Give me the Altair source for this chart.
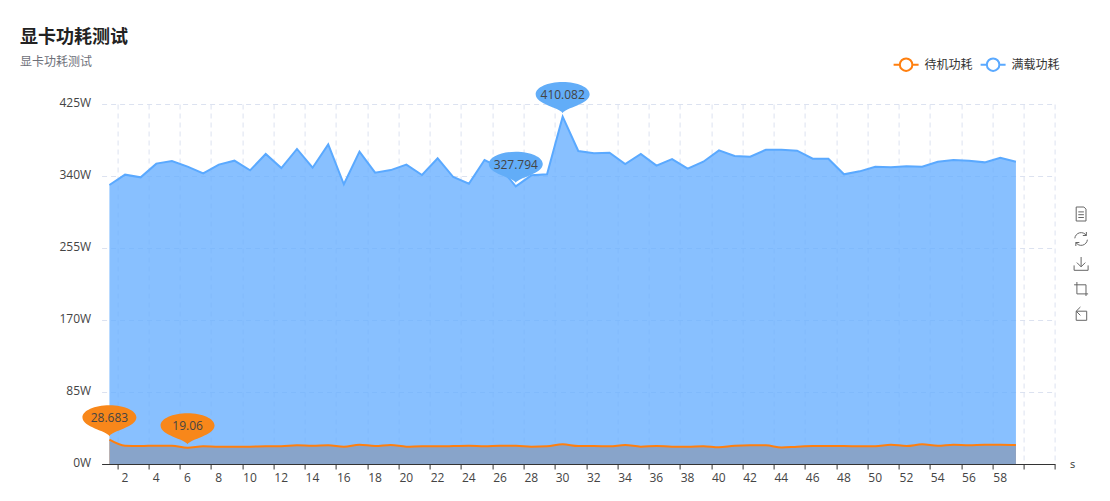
import pandas as pd
import altair as alt

seconds = list(range(1, 60))

# 待机功耗
idle = [28.683, 21.6, 21.2, 21.6, 21.6, 19.06, 20.9, 20.5, 20.5, 20.5,
        20.9, 20.9, 22.0, 21.6, 22.0, 20.5, 22.8, 21.2, 22.4, 20.5,
        20.9, 20.9, 21.2, 21.6, 20.9, 21.6, 21.6, 20.5, 20.9, 23.2,
        21.2, 21.2, 20.9, 22.4, 20.5, 21.2, 20.5, 20.5, 20.9, 19.7,
        21.6, 22.0, 22.0, 19.5, 20.5, 21.2, 21.2, 21.2, 20.9, 20.9,
        22.8, 21.2, 23.2, 21.6, 22.8, 22.0, 22.8, 22.8, 22.4]

# 满载功耗
full = [329.4, 341.6, 338.4, 354.6, 357.7, 351.0, 343.0, 353.4, 358.1, 346.7,
        366.0, 349.4, 371.9, 349.8, 377.4, 330.2, 368.7, 343.9, 347.0, 353.4,
        341.2, 360.9, 338.8, 330.9, 358.9, 350.0, 327.794, 340.8, 342.0, 410.082,
        369.5, 366.8, 367.5, 354.2, 366.0, 352.2, 360.0, 348.6, 356.9, 370.3,
        363.6, 362.8, 371.0, 371.0, 369.9, 360.4, 360.4, 342.0, 345.5, 351.0,
        350.2, 351.4, 351.0, 356.9, 358.9, 358.1, 356.1, 361.6, 356.9]

idle_marks = [(1, 28.683), (6, 19.06)]
full_marks = [(27, 327.794), (30, 410.082)]

y_ticks = [0, 85, 170, 255, 340, 425]
# the axis has 61 bands, ticks sit on the band edges
x_ticks = [k + 0.5 for k in range(1, 62, 2)]

ORANGE = '#FF7F0E'
BLUE = '#5AA9FF'
FONT = 'Open Sans, Noto Sans CJK SC'
CJK = 'Noto Sans CJK SC'

PIN = ('M0 -0.13 C-0.1 -0.34 -1 -0.45 -1 -0.83 C-1 -1.08 -0.55 -1.28 0 -1.28 '
       'C0.55 -1.28 1 -1.08 1 -0.83 C1 -0.45 0.1 -0.34 0 -0.13 Z')
LEGEND_SYMBOL = ('M-1 0 L-0.5 0 A0.5 0.5 0 1 1 0.5 0 A0.5 0.5 0 1 1 -0.5 0 '
                 'M0.5 0 L1 0')

# toolbox icons down the right edge
ICONS = [
    'M-0.7 -1 L0.4 -1 L0.7 -0.7 L0.7 1 L-0.7 1 Z M-0.4 -0.3 L0.4 -0.3 M-0.4 0.1 L0.4 0.1 M-0.4 0.5 L0.4 0.5',
    'M-0.9 -0.1 A0.9 0.9 0 0 1 0.75 -0.5 M0.9 0.1 A0.9 0.9 0 0 1 -0.75 0.5 M0.75 -1 L0.75 -0.5 L0.25 -0.5 M-0.75 1 L-0.75 0.5 L-0.25 0.5',
    'M0 -1 L0 0.4 M-0.6 -0.2 L0 0.4 L0.6 -0.2 M-1 0.2 L-1 0.9 L1 0.9 L1 0.2',
    'M-0.6 -1 L-0.6 0.7 L1 0.7 M-1 -0.6 L0.7 -0.6 L0.7 1',
    'M-0.7 -0.4 L0.8 -0.4 L0.8 0.9 L-0.7 0.9 Z M-0.1 -1 L-0.7 -0.4 L-0.1 0.2',
]
icon_x = [979.5] * 5
icon_y = [110, 135, 160, 185, 210]

df_idle = pd.DataFrame({'t': seconds, 'w': idle, 'series': '待机功耗'})
df_full = pd.DataFrame({'t': seconds, 'w': full, 'series': '满载功耗'})
df_lines = pd.concat([df_idle, df_full])

x = alt.X('t:Q',
          scale=alt.Scale(domain=[0.5, 61.5], nice=False, zero=False),
          axis=alt.Axis(values=x_ticks, labelExpr="datum.value < 59 ? '' + (datum.value + 0.5) : ''",
                        labelOffset=7.2, labelAngle=0, labelFlush=False, labelOverlap=False,
                        labelPadding=3, labelFontSize=12, labelColor='#444', labelFont=FONT,
                        tickSize=5, tickColor='#333', domainColor='#333',
                        grid=True, gridColor='#DCE2F0', gridDash=[5, 4],
                        title='s', titleX=970.5, titleY=0, titleAlign='center', titleBaseline='middle',
                        titleFontWeight='normal', titleFontSize=11, titleColor='#333', titleFont=FONT))
y = alt.Y('w:Q',
          scale=alt.Scale(domain=[0, 425], nice=False),
          axis=alt.Axis(values=y_ticks, labelExpr="datum.value + 'W'",
                        labelPadding=11, labelFontSize=12, labelColor='#444', labelFont=FONT,
                        labelOffset=-1.5, domain=False, ticks=False,
                        grid=True, gridColor='#DCE2F0', gridDash=[5, 4], title=None))

idle_area = alt.Chart(df_idle).mark_area(interpolate='monotone', color=ORANGE).encode(x=x, y=y)
full_area = alt.Chart(df_full).mark_area(color='#66AEFF', opacity=0.78).encode(x=x, y=y)

color = alt.Color('series:N',
                  scale=alt.Scale(domain=['待机功耗', '满载功耗'], range=[ORANGE, BLUE]),
                  legend=alt.Legend(title=None, orient='none', direction='horizontal',
                                    legendX=791, legendY=-53,
                                    symbolType=LEGEND_SYMBOL, symbolSize=625, symbolStrokeWidth=2,
                                    symbolFillColor='#fff', symbolOpacity=1,
                                    labelFont=CJK, labelFontSize=12, labelColor='#333',
                                    labelOffset=5, columnPadding=3))
full_line = alt.Chart(df_lines[df_lines.series == '满载功耗']).mark_line(strokeWidth=2).encode(x=x, y=y, color=color)
idle_line = alt.Chart(df_lines[df_lines.series == '待机功耗']).mark_line(strokeWidth=2, interpolate='monotone').encode(x=x, y=y, color=color)


def pins(marks, fill):
    df = pd.DataFrame(marks, columns=['t', 'w'])
    pin = alt.Chart(df).mark_point(shape=PIN, size=2916, filled=True, fill=fill, opacity=1, strokeWidth=0).encode(x=x, y=y)
    label = alt.Chart(df).mark_text(dy=-21.5, fontSize=12, font=FONT, color='#444').encode(x=x, y=y, text='w:Q')
    return pin + label


icons = [
    alt.Chart(pd.DataFrame({'i': [n]})).mark_point(shape=ICONS[n], size=196, filled=False, stroke='#666', strokeWidth=1, opacity=1).encode(
        x=alt.value(icon_x[n]), y=alt.value(icon_y[n]))
    for n in range(len(ICONS))
]

chart = alt.layer(
    idle_area, full_area, full_line, idle_line,
    pins(idle_marks, '#F8871A'), pins(full_marks, '#62ADF8'),
    *icons
).properties(
    width=953.4,
    height=360,
    padding={'left': 93.6, 'top': 96, 'right': 40, 'bottom': 25},
    autosize=alt.AutoSizeParams(type='none'),
    title=alt.TitleParams('显卡功耗测试', subtitle='显卡功耗测试', anchor='start', frame='group',
                          dx=-81.6, dy=59, offset=42, font=CJK, fontSize=18, fontWeight='bold', color='#222',
                          subtitleFont=CJK, subtitleFontSize=12, subtitleColor='#6E7079', subtitlePadding=10)
).configure_view(stroke=None)

chart.save("out.html", embed_options={"renderer": "svg", "actions": False})
